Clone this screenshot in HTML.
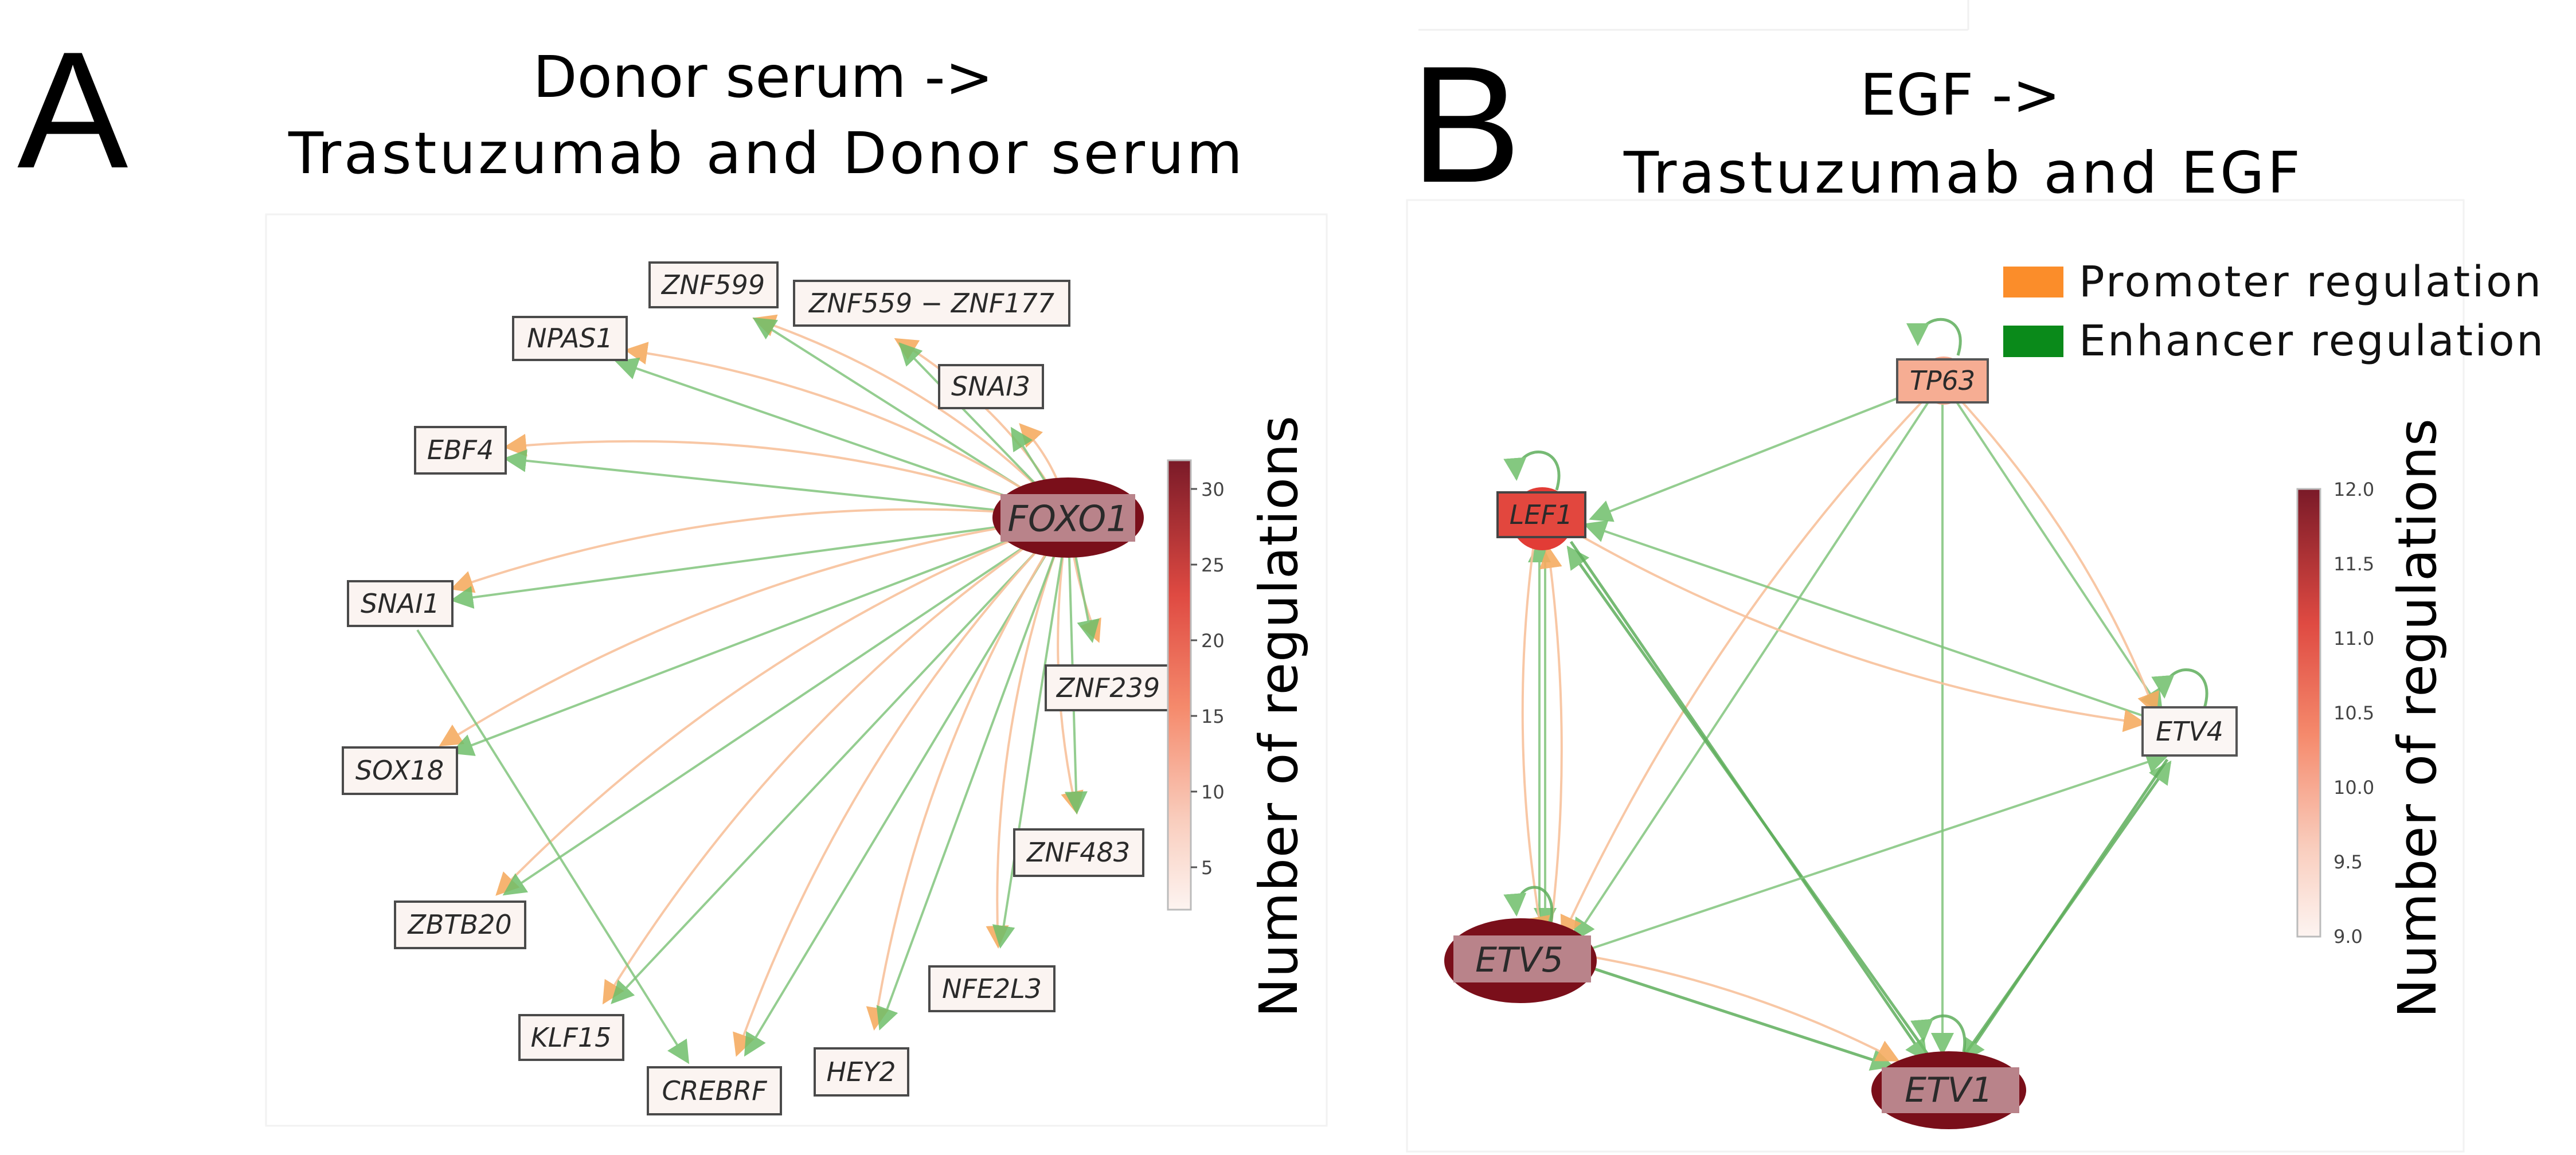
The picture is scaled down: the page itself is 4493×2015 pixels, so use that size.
<!DOCTYPE html>
<html><head><meta charset="utf-8"><style>
html,body{margin:0;padding:0;background:#fff;}
svg{display:block;}
</style></head><body>
<svg width="4493" height="2015" viewBox="0 0 4493 2015" xmlns="http://www.w3.org/2000/svg">
<defs>
<marker id="ag" viewBox="0 0 10 10" refX="9" refY="5" markerWidth="40" markerHeight="40" markerUnits="userSpaceOnUse" orient="auto"><path d="M0,0 L10,5 L0,10 z" fill="#6fbf6a"/></marker>
<marker id="ao" viewBox="0 0 10 10" refX="9" refY="5" markerWidth="40" markerHeight="40" markerUnits="userSpaceOnUse" orient="auto"><path d="M0,0 L10,5 L0,10 z" fill="#f6ac62"/></marker>
<linearGradient id="cbA" x1="0" y1="0" x2="0" y2="1">
<stop offset="0" stop-color="#7a1a28"/><stop offset="0.3" stop-color="#df4a42"/><stop offset="0.55" stop-color="#f58a6c"/><stop offset="0.8" stop-color="#f9cdbd"/><stop offset="1" stop-color="#fdf4f1"/>
</linearGradient>
</defs>
<style>
.g{stroke:#82c57d;stroke-width:4;fill:none;opacity:.85}
.o{stroke:#f8c29c;stroke-width:4;fill:none;opacity:.9}
.gb{stroke:#5fae5c;stroke-width:5;fill:none;opacity:.85}
.lb{fill:#fbf4f1;stroke:#4a4a4a;stroke-width:4}
.lt{font-family:"DejaVu Sans","Liberation Sans",sans-serif;font-style:italic;font-size:46px;fill:#2a2a2a;text-anchor:middle;dominant-baseline:central}
.tt{font-family:"DejaVu Sans","Liberation Sans",sans-serif;font-size:100px;fill:#000;text-anchor:middle}
.tk{font-family:"DejaVu Sans","Liberation Sans",sans-serif;font-size:32px;fill:#444}
.big{font-family:"Liberation Sans","DejaVu Sans",sans-serif;font-size:290px;fill:#000}
</style>

<!-- Panel A -->
<text class="big" x="30" y="292">A</text>
<text class="tt" x="1331" y="169">Donor serum -&gt;</text>
<text class="tt" x="1335" y="302" textLength="1664">Trastuzumab and Donor serum</text>
<rect x="464" y="374" width="1850" height="1590" fill="#fff" stroke="#f2f2f2" stroke-width="3"/>

<g>
<path class="o" marker-end="url(#ao)" d="M1863 903 Q1643 668 1316 556"/>
<path class="g" marker-end="url(#ag)" d="M1863 903 L1316 556"/>
<path class="o" marker-end="url(#ao)" d="M1863 903 Q1763 715 1563 592"/>
<path class="g" marker-end="url(#ag)" d="M1863 903 L1570 600"/>
<path class="o" marker-end="url(#ao)" d="M1863 903 Q1520 672 1093 611"/>
<path class="g" marker-end="url(#ag)" d="M1863 903 L1076 631"/>
<path class="o" marker-end="url(#ao)" d="M1863 903 Q1849 816 1780 741"/>
<path class="g" marker-end="url(#ag)" d="M1863 903 L1765 748"/>
<path class="o" marker-end="url(#ao)" d="M1863 903 Q1399 733 882 780"/>
<path class="g" marker-end="url(#ag)" d="M1863 903 L882 800"/>
<path class="o" marker-end="url(#ao)" d="M1863 903 Q1322 844 789 1027"/>
<path class="g" marker-end="url(#ag)" d="M1863 903 L789 1047"/>
<path class="o" marker-end="url(#ao)" d="M1863 903 Q1876 1021 1916 1118"/>
<path class="g" marker-end="url(#ag)" d="M1863 903 L1905 1118"/>
<path class="o" marker-end="url(#ao)" d="M1863 903 Q1285 978 769 1300"/>
<path class="g" marker-end="url(#ag)" d="M1863 903 L789 1313"/>
<path class="o" marker-end="url(#ao)" d="M1863 903 Q1821 1165 1878 1417"/>
<path class="g" marker-end="url(#ag)" d="M1863 903 L1878 1417"/>
<path class="o" marker-end="url(#ao)" d="M1863 903 Q1299 1116 867 1560"/>
<path class="g" marker-end="url(#ag)" d="M1863 903 L880 1560"/>
<path class="o" marker-end="url(#ao)" d="M1863 903 Q1725 1266 1741 1651"/>
<path class="g" marker-end="url(#ag)" d="M1863 903 L1745 1651"/>
<path class="o" marker-end="url(#ao)" d="M1863 903 Q1369 1232 1053 1749"/>
<path class="g" marker-end="url(#ag)" d="M1863 903 L1068 1749"/>
<path class="o" marker-end="url(#ao)" d="M1863 903 Q1474 1306 1285 1840"/>
<path class="g" marker-end="url(#ag)" d="M1863 903 L1300 1840"/>
<path class="o" marker-end="url(#ao)" d="M1863 903 Q1600 1312 1525 1794"/>
<path class="g" marker-end="url(#ag)" d="M1863 903 L1535 1794"/>
<path class="g" marker-end="url(#ag)" d="M728 1099 L1200 1853"/>
</g>

<ellipse cx="1863" cy="903" rx="132" ry="70" fill="#7a0f1a"/>
<rect x="1745" y="862" width="235" height="83" fill="#b9838a"/>
<text class="lt" x="1863" y="905" style="font-size:62px">FOXO1</text>

<g>
<rect class="lb" x="1133" y="458" width="223" height="78"/><text class="lt" x="1244" y="497">ZNF599</text>
<rect class="lb" x="1385" y="490" width="480" height="78"/><text class="lt" x="1625" y="529">ZNF559 − ZNF177</text>
<rect class="lb" x="895" y="553" width="198" height="75"/><text class="lt" x="994" y="590">NPAS1</text>
<rect class="lb" x="1638" y="637" width="181" height="75"/><text class="lt" x="1728" y="674">SNAI3</text>
<rect class="lb" x="724" y="745" width="158" height="81"/><text class="lt" x="803" y="785">EBF4</text>
<rect class="lb" x="607" y="1014" width="182" height="78"/><text class="lt" x="698" y="1053">SNAI1</text>
<rect class="lb" x="1824" y="1161" width="219" height="78"/><text class="lt" x="1933" y="1200">ZNF239</text>
<rect class="lb" x="598" y="1304" width="199" height="81"/><text class="lt" x="697" y="1344">SOX18</text>
<rect class="lb" x="1769" y="1447" width="225" height="81"/><text class="lt" x="1881" y="1487">ZNF483</text>
<rect class="lb" x="689" y="1573" width="227" height="81"/><text class="lt" x="802" y="1613">ZBTB20</text>
<rect class="lb" x="1621" y="1686" width="218" height="78"/><text class="lt" x="1730" y="1725">NFE2L3</text>
<rect class="lb" x="906" y="1771" width="181" height="78"/><text class="lt" x="996" y="1810">KLF15</text>
<rect class="lb" x="1130" y="1862" width="232" height="82"/><text class="lt" x="1246" y="1903">CREBRF</text>
<rect class="lb" x="1421" y="1829" width="163" height="82"/><text class="lt" x="1502" y="1870">HEY2</text>
</g>

<rect x="2037" y="803" width="40" height="784" fill="url(#cbA)" stroke="#bbb" stroke-width="3"/>
<g class="tk">
<line x1="2077" y1="853" x2="2088" y2="853" stroke="#555" stroke-width="3"/><text x="2095" y="865">30</text>
<line x1="2077" y1="985" x2="2088" y2="985" stroke="#555" stroke-width="3"/><text x="2095" y="997">25</text>
<line x1="2077" y1="1117" x2="2088" y2="1117" stroke="#555" stroke-width="3"/><text x="2095" y="1129">20</text>
<line x1="2077" y1="1249" x2="2088" y2="1249" stroke="#555" stroke-width="3"/><text x="2095" y="1261">15</text>
<line x1="2077" y1="1381" x2="2088" y2="1381" stroke="#555" stroke-width="3"/><text x="2095" y="1393">10</text>
<line x1="2077" y1="1513" x2="2088" y2="1513" stroke="#555" stroke-width="3"/><text x="2095" y="1525">5</text>
</g>
<text transform="translate(2262,1250) rotate(-90)" text-anchor="middle" font-family="DejaVu Sans, Liberation Sans, sans-serif" font-size="92" textLength="1050" fill="#000">Number of regulations</text>

<!-- Panel B -->
<line x1="2474" y1="52" x2="3433" y2="52" stroke="#f0f0f0" stroke-width="3"/>
<line x1="3433" y1="0" x2="3433" y2="52" stroke="#f0f0f0" stroke-width="3"/>
<text class="big" x="2460" y="317">B</text>
<text class="tt" x="3419" y="200">EGF -&gt;</text>
<text class="tt" x="3422" y="336" textLength="1180">Trastuzumab and EGF</text>
<rect x="2454" y="349" width="1843" height="1660" fill="#fff" stroke="#f2f2f2" stroke-width="3"/>

<rect x="3494" y="465" width="105" height="54" fill="#fb8d2a"/>
<rect x="3494" y="568" width="105" height="55" fill="#0a8a1a"/>
<text x="3626" y="517" font-family="DejaVu Sans, Liberation Sans, sans-serif" font-size="74" textLength="806" fill="#111">Promoter regulation</text>
<text x="3626" y="620" font-family="DejaVu Sans, Liberation Sans, sans-serif" font-size="74" textLength="810" fill="#111">Enhancer regulation</text>

<g>
<!-- TP63 edges -->
<path class="g" marker-end="url(#ag)" d="M3388 664 L2775 905"/>
<path class="g" marker-end="url(#ag)" d="M3388 664 L2745 1640"/>
<path class="o" marker-end="url(#ao)" d="M3388 664 Q2980 1080 2725 1635"/>
<path class="g" marker-end="url(#ag)" d="M3388 664 L3388 1838"/>
<path class="g" marker-end="url(#ag)" d="M3388 664 L3770 1240"/>
<path class="o" marker-end="url(#ao)" d="M3388 664 Q3640 930 3760 1245"/>
<!-- LEF1 / ETV4 -->
<path class="g" marker-end="url(#ag)" d="M3800 1270 L2765 915"/>
<path class="o" marker-end="url(#ao)" d="M2740 925 Q3200 1190 3740 1262"/>
<!-- LEF1 / ETV5 -->
<path class="g" marker-end="url(#ag)" d="M2685 1620 L2685 945"/>
<path class="g" marker-end="url(#ag)" d="M2695 945 L2695 1620"/>
<path class="o" marker-end="url(#ao)" d="M2675 950 Q2630 1290 2690 1635"/>
<path class="o" marker-end="url(#ao)" d="M2705 1620 Q2745 1290 2700 955"/>
<!-- ETV1 / LEF1 -->
<path class="gb" marker-end="url(#ag)" d="M3370 1850 L2735 955"/>
<path class="gb" marker-end="url(#ag)" d="M2740 945 L3360 1850"/>
<!-- ETV5 / ETV4 -->
<path class="g" marker-end="url(#ag)" d="M2760 1660 L3780 1318"/>
<!-- ETV1 / ETV4 -->
<path class="gb" marker-end="url(#ag)" d="M3420 1850 L3785 1330"/>
<path class="gb" marker-end="url(#ag)" d="M3780 1325 L3425 1850"/>
<!-- ETV5 / ETV1 -->
<path class="gb" marker-end="url(#ag)" d="M2780 1690 L3300 1860"/>
<path class="o" marker-end="url(#ao)" d="M2780 1670 Q3060 1720 3310 1850"/>
<!-- self loops -->
<path class="gb" marker-end="url(#ag)" d="M3415 620 C3440 540 3345 540 3345 600"/>
<path class="gb" marker-end="url(#ag)" d="M2715 855 C2740 770 2640 770 2645 835"/>
<path class="gb" marker-end="url(#ag)" d="M3845 1235 C3870 1150 3770 1150 3775 1215"/>
<path class="gb" marker-end="url(#ag)" d="M2705 1610 C2720 1530 2640 1530 2645 1595"/>
<path class="gb" marker-end="url(#ag)" d="M3425 1835 C3440 1755 3350 1755 3355 1815"/>
</g>

<circle cx="3390" cy="664" r="42" fill="#f6a98e"/>
<rect x="3309" y="627" width="158" height="75" fill="#f6ad93" stroke="#555" stroke-width="4"/>
<text class="lt" x="3388" y="664">TP63</text>

<circle cx="2690" cy="905" r="55" fill="#e23c36"/>
<rect x="2612" y="859" width="153" height="78" fill="#e2473e" stroke="#444" stroke-width="4"/>
<text class="lt" x="2688" y="898">LEF1</text>

<rect x="3737" y="1234" width="164" height="84" fill="#fbf6f4" stroke="#555" stroke-width="4"/>
<text class="lt" x="3819" y="1276">ETV4</text>

<ellipse cx="2652" cy="1676" rx="133" ry="74" fill="#7a0f1a"/>
<rect x="2535" y="1632" width="240" height="82" fill="#b9838a"/>
<text class="lt" x="2650" y="1675" style="font-size:60px">ETV5</text>

<ellipse cx="3399" cy="1902" rx="135" ry="68" fill="#7a0f1a"/>
<rect x="3282" y="1862" width="240" height="80" fill="#b9838a"/>
<text class="lt" x="3399" y="1902" style="font-size:60px">ETV1</text>

<rect x="4007" y="853" width="40" height="781" fill="url(#cbA)" stroke="#bbb" stroke-width="3"/>
<g class="tk">
<text x="4070" y="865">12.0</text>
<text x="4070" y="995">11.5</text>
<text x="4070" y="1125">11.0</text>
<text x="4070" y="1255">10.5</text>
<text x="4070" y="1385">10.0</text>
<text x="4070" y="1515">9.5</text>
<text x="4070" y="1645">9.0</text>
</g>
<text transform="translate(4248,1253) rotate(-90)" text-anchor="middle" font-family="DejaVu Sans, Liberation Sans, sans-serif" font-size="92" textLength="1046" fill="#000">Number of regulations</text>
</svg>
</body></html>
